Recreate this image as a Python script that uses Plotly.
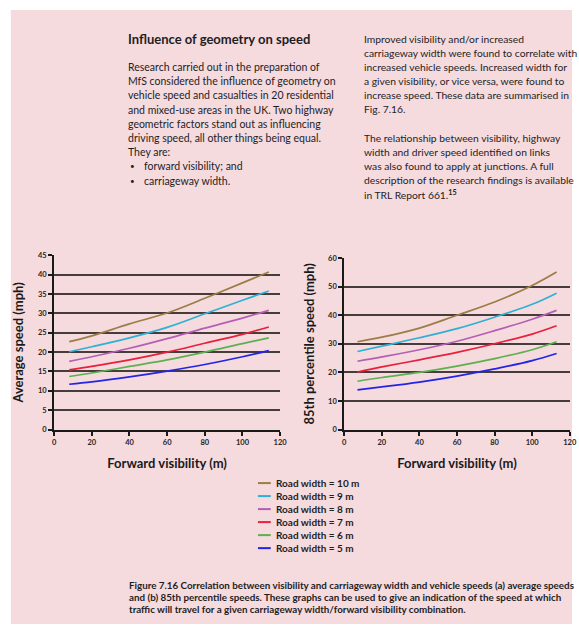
import plotly.graph_objects as go

# Road widths (m) and line colours, widest first
widths = [10, 9, 8, 7, 6, 5]
colors = ["#9b7d45", "#2fb0d4", "#b45fb4", "#e8203c", "#5cb050", "#2424e6"]

# (a) Average speed (mph) against forward visibility (m)
vis_avg = [8, 20, 40, 60, 80, 100, 114]
avg_speed = {
    10: [22.7, 24.2, 27.3, 30.1, 33.9, 37.9, 40.7],
    9:  [20.1, 21.4, 23.7, 26.4, 29.9, 33.4, 35.8],
    8:  [17.6, 18.8, 21.0, 23.5, 26.2, 28.8, 30.8],
    7:  [15.4, 16.3, 18.0, 20.0, 22.3, 24.6, 26.5],
    6:  [13.7, 14.6, 16.3, 18.0, 20.0, 22.2, 23.7],
    5:  [11.7, 12.3, 13.6, 15.1, 16.8, 18.8, 20.4],
}

# (b) 85th percentile speed (mph) against forward visibility (m)
vis_85 = [7, 20, 40, 60, 80, 100, 113]
p85_speed = {
    10: [30.7, 32.3, 35.5, 40.0, 44.6, 50.4, 55.1],
    9:  [27.3, 29.2, 32.1, 35.3, 39.3, 43.8, 47.7],
    8:  [23.9, 25.4, 27.9, 30.9, 34.6, 38.6, 41.7],
    7:  [20.1, 21.9, 24.4, 27.0, 30.0, 33.4, 36.3],
    6:  [16.9, 18.2, 20.0, 22.2, 24.8, 27.9, 30.7],
    5:  [13.9, 14.9, 16.6, 18.7, 21.2, 24.1, 26.6],
}

x_ticks = [0, 20, 40, 60, 80, 100, 120]
avg_ticks = [0, 5, 10, 15, 20, 25, 30, 35, 40, 45]
p85_ticks = [0, 10, 20, 30, 40, 50, 60]

title_text = "Influence of geometry on speed"
left_column = [
    "Research carried out in the preparation of",
    "MfS considered the influence of geometry on",
    "vehicle speed and casualties in 20 residential",
    "and mixed-use areas in the UK. Two highway",
    "geometric factors stand out as influencing",
    "driving speed, all other things being equal.",
    "They are:",
]
bullets = ["forward visibility; and", "carriageway width."]
right_column = [
    "Improved visibility and/or increased",
    "carriageway width were found to correlate with",
    "increased vehicle speeds. Increased width for",
    "a given visibility, or vice versa, were found to",
    "increase speed. These data are summarised in",
    "Fig. 7.16.",
    "",
    "The relationship between visibility, highway",
    "width and driver speed identified on links",
    "was also found to apply at junctions. A full",
    "description of the research findings is available",
    "in TRL Report 661.<sup><b>15</b></sup>",
]
caption = [
    "Figure 7.16 Correlation between visibility and carriageway width and vehicle speeds (a) average speeds",
    "and (b) 85th percentile speeds. These graphs can be used to give an indication of the speed at which",
    "traffic will travel for a given carriageway width/forward visibility combination.",
]

W, H = 579, 631
PINK = "#f5dade"
BODY_FONT = "Lato"


def px(x):
    return x / W


def py(y):
    return 1 - y / H


fig = go.Figure()

for w, c in zip(widths, colors):
    fig.add_trace(go.Scatter(
        x=vis_avg, y=avg_speed[w], mode="lines", line=dict(color=c, width=1.7, shape="spline"),
        xaxis="x", yaxis="y", showlegend=False, name=f"Road width = {w} m"))
    fig.add_trace(go.Scatter(
        x=vis_85, y=p85_speed[w], mode="lines", line=dict(color=c, width=1.7, shape="spline"),
        xaxis="x2", yaxis="y2", showlegend=False, name=f"Road width = {w} m"))

tick_font = dict(family="Lato", size=7.5, color="#262626", weight="bold")
title_font = dict(family="Lato", size=13, color="#1a1a1a", weight="bold")

common_x = dict(range=[0, 120], tickvals=x_ticks, showline=True, linecolor="#1a1a1a", linewidth=2,
                ticks="outside", ticklen=4, tickwidth=1.5, tickcolor="#1a1a1a", showgrid=False,
                zeroline=False, tickfont=tick_font, title_font=title_font, fixedrange=True)
common_y = dict(showline=True, linecolor="#1a1a1a", linewidth=2, ticks="outside", ticklen=4,
                tickwidth=1.5, tickcolor="#1a1a1a", showgrid=True, gridcolor="#463c3c",
                gridwidth=1.5, zeroline=False, tickfont=tick_font, title_font=title_font,
                fixedrange=True)

shapes = [dict(type="rect", xref="paper", yref="paper", x0=px(9), x1=1, y0=py(629), y1=py(6),
               fillcolor=PINK, line=dict(width=0), layer="below")]
annotations = []


def text(x, y, s, size=10.5, bold=False, family=BODY_FONT, color="#1e1e1e"):
    annotations.append(dict(
        x=px(x), y=py(y), xref="paper", yref="paper", text=s, showarrow=False,
        xanchor="left", yanchor="middle",
        font=dict(family=family, size=size, color=color, weight="bold" if bold else "normal")))


text(126, 36, title_text, size=13, bold=True)
for i, line in enumerate(left_column):
    text(126, 64 + i * 14.4, line)
for i, line in enumerate(bullets):
    text(128, 64 + (len(left_column) + i) * 14.4, "•", size=8)
    text(142, 64 + (len(left_column) + i) * 14.4, line)
for i, line in enumerate(right_column):
    if line:
        text(366, 35 + i * 14.4, line, size=10.3)
for i, line in enumerate(caption):
    text(127, 589 + i * 12.4, line, size=9.8, bold=True)

# Legend: one swatch and label per road width
for i, (w, c) in enumerate(zip(widths, colors)):
    yy = 486 + i * 13.2
    shapes.append(dict(type="line", xref="paper", yref="paper", x0=px(260), x1=px(273),
                       y0=py(yy), y1=py(yy), line=dict(color=c, width=2)))
    text(276, yy, f"Road width = {w} m", size=10, bold=True)

fig.update_layout(
    width=W, height=H, margin=dict(l=0, r=0, t=0, b=0),
    paper_bgcolor="white", plot_bgcolor="rgba(0,0,0,0)",
    xaxis=dict(common_x, domain=[px(53), px(282.5)], anchor="y",
               title=dict(text="Forward visibility (m)", standoff=13)),
    yaxis=dict(common_y, domain=[py(431.7), py(255)], range=[0, 45], tickvals=avg_ticks, anchor="x",
               title=dict(text="Average speed (mph)", standoff=11)),
    xaxis2=dict(common_x, domain=[px(347.7), px(576.7)], anchor="y2",
                title=dict(text="Forward visibility (m)", standoff=13)),
    yaxis2=dict(common_y, domain=[py(431.7), py(257.7)], range=[0, 60], tickvals=p85_ticks, anchor="x2",
                title=dict(text="85th percentile speed (mph)", standoff=11)),
    shapes=shapes, annotations=annotations,
)

fig.write_html("out.html")
